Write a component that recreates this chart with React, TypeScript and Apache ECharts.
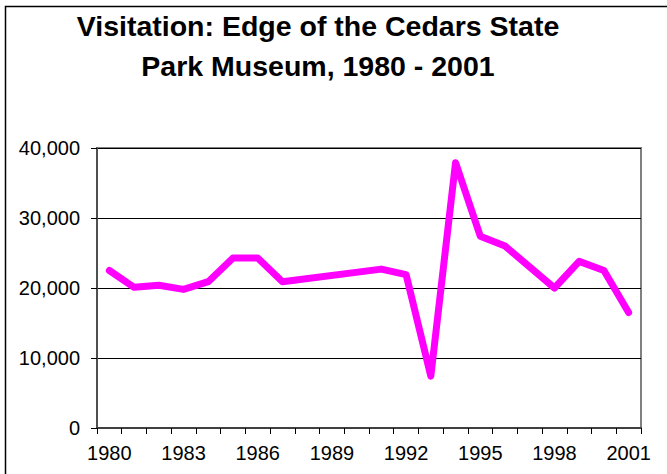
import React, { useEffect, useRef } from "react";
import * as echarts from "echarts";

const years = [
  "1980", "1981", "1982", "1983", "1984", "1985", "1986", "1987", "1988", "1989", "1990",
  "1991", "1992", "1993", "1994", "1995", "1996", "1997", "1998", "1999", "2000", "2001",
];
const visitors: (number | null)[] = [
  22500, 20100, 20400, 19800, 20900, 24300, 24300, 20900, null, null, null,
  22700, 21900, 7400, 37900, 27400, 26000, null, 20000, 23800, 22500, 16500,
];
const titleLines = ["Visitation: Edge of the Cedars State", "Park Museum, 1980 - 2001"];
const yMin = 0;
const yMax = 40000;
const yStep = 10000;

const FONT = "'Liberation Sans', Arial, Helvetica, sans-serif";

export default function App() {
  const ref = useRef<HTMLDivElement>(null);
  useEffect(() => {
    document.body.style.margin = "0";
    if (!ref.current) return;
    const chart = echarts.init(ref.current, null, { renderer: "svg" });
    chart.setOption({
      animation: false,
      backgroundColor: "#ffffff",
      title: {
        text: titleLines.join("\n"),
        left: 313,
        top: 1,
        textAlign: "center",
        textStyle: {
          fontFamily: FONT,
          fontSize: 28.5,
          fontWeight: "bold",
          color: "#000",
          lineHeight: 40,
        },
      },
      graphic: [
        {
          type: "rect",
          shape: { x: 5.5, y: 6.5, width: 700, height: 500 },
          style: { fill: "none", stroke: "#000", lineWidth: 1.5 },
          silent: true,
        },
      ],
      grid: {
        left: 97,
        top: 148,
        right: 26,
        bottom: 46,
        show: true,
        borderColor: "#808080",
        borderWidth: 2,
        backgroundColor: "transparent",
      },
      xAxis: {
        type: "category",
        data: years,
        boundaryGap: true,
        axisLine: { show: true, lineStyle: { color: "#404040", width: 2 } },
        axisTick: {
          show: true,
          inside: false,
          length: 6,
          interval: 0,
          alignWithLabel: false,
          lineStyle: { color: "#000", width: 1 },
        },
        axisLabel: {
          interval: 2,
          margin: 15,
          fontFamily: FONT,
          fontSize: 20,
          color: "#000",
        },
        splitLine: { show: false },
      },
      yAxis: {
        type: "value",
        min: yMin,
        max: yMax,
        interval: yStep,
        axisLine: { show: true, lineStyle: { color: "#505050", width: 2 } },
        axisTick: { show: true, inside: false, length: 6, lineStyle: { color: "#000", width: 1 } },
        axisLabel: {
          margin: 17,
          fontFamily: FONT,
          fontSize: 20,
          color: "#000",
          formatter: (v: number) => v.toLocaleString("en-US"),
        },
        splitLine: { show: true, lineStyle: { color: "#000", width: 1 } },
      },
      series: [
        {
          type: "line",
          data: visitors,
          connectNulls: true,
          symbol: "none",
          lineStyle: { color: "#ff00ff", width: 7, cap: "round", join: "round" },
          itemStyle: { color: "#ff00ff" },
        },
      ],
    });
    return () => chart.dispose();
  }, []);
  return <div ref={ref} style={{ width: 667, height: 474 }} />;
}
